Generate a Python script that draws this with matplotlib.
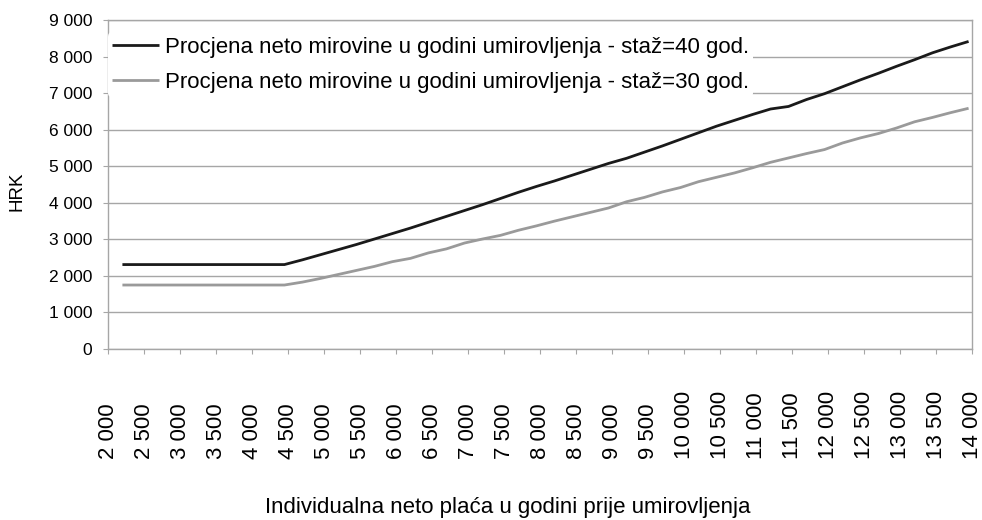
import numpy as np
import matplotlib
matplotlib.use('Agg')
import matplotlib.pyplot as plt

plt.rcParams['font.family'] = ['Liberation Sans', 'DejaVu Sans']

# individual net salary (HRK)
placa = [2200, 2450, 2700, 2950, 3200, 3450, 3700, 3950, 4200, 4450,
         4700, 4950, 5200, 5450, 5700, 5950, 6200, 6450, 6700, 6950,
         7200, 7450, 7700, 7950, 8200, 8450, 8700, 8950, 9200, 9450,
         9700, 9950, 10200, 10450, 10700, 10950, 11200, 11450, 11700, 11950,
         12200, 12450, 12700, 12950, 13200, 13450, 13700, 13950]

staz40 = [2310, 2310, 2310, 2310, 2310, 2310, 2310, 2310, 2310, 2310,
          2440, 2580, 2720, 2860, 3010, 3160, 3310, 3470, 3630, 3790,
          3950, 4120, 4290, 4450, 4600, 4760, 4920, 5080, 5220, 5390,
          5560, 5740, 5920, 6100, 6260, 6420, 6570, 6640, 6830, 6990,
          7180, 7370, 7550, 7740, 7920, 8110, 8270, 8420]

staz30 = [1750, 1750, 1750, 1750, 1750, 1750, 1750, 1750, 1750, 1750,
          1830, 1930, 2040, 2150, 2260, 2390, 2480, 2630, 2740, 2900,
          3010, 3110, 3250, 3370, 3500, 3620, 3740, 3860, 4030, 4150,
          4300, 4420, 4580, 4700, 4820, 4960, 5110, 5230, 5350, 5460,
          5640, 5780, 5900, 6050, 6220, 6340, 6470, 6590]

x_ticks = list(range(2000, 14001, 500))
y_ticks = list(range(0, 9001, 1000))

label40 = 'Procjena neto mirovine u godini umirovljenja - staž=40 god.'
label30 = 'Procjena neto mirovine u godini umirovljenja - staž=30 god.'


def fmt(v):
    return '{:,}'.format(v).replace(',', ' ')


fs = 16
fig = plt.figure(figsize=(9.82, 5.2), dpi=100)
ax = fig.add_axes([0.110, 0.329, 0.880, 0.632])

grid_c = '#a6a6a6'
ax.plot(placa, staz40, color='#1a1a1a', lw=2.0, label=label40, solid_capstyle='butt')
ax.plot(placa, staz30, color='#9a9a9a', lw=2.0, label=label30, solid_capstyle='butt')

ax.set_xlim(2000, 14000)
ax.set_ylim(0, 9000)
ax.set_yticks(y_ticks, [fmt(v) for v in y_ticks])
ax.set_xticks(x_ticks, [fmt(v) for v in x_ticks], rotation=90, va='bottom')
ax.tick_params(axis='x', pad=76, length=3.5, color=grid_c, labelsize=fs)
ax.tick_params(axis='y', pad=8, length=3.5, color=grid_c, labelsize=12.5)
ax.yaxis.grid(True, color=grid_c, lw=1)
ax.set_axisbelow(True)
for s in ax.spines.values():
    s.set_color(grid_c)
    s.set_linewidth(1)

ax.set_ylabel('HRK', fontsize=13.5)
ax.yaxis.set_label_coords(-0.095, 0.48)
fig.text(508 / 982, 12 / 520, 'Individualna neto plaća u godini prije umirovljenja',
         ha='center', va='center', fontsize=fs)

leg = ax.legend(loc='upper left', bbox_to_anchor=(0.0, 0.963), frameon=True,
                fontsize=fs, handlelength=2.1, handletextpad=0.25,
                borderpad=0.2, borderaxespad=0, labelspacing=0.62)
leg.get_frame().set_facecolor('white')
leg.get_frame().set_edgecolor('none')
leg.get_frame().set_alpha(1)

fig.savefig('out.png', dpi=100)
